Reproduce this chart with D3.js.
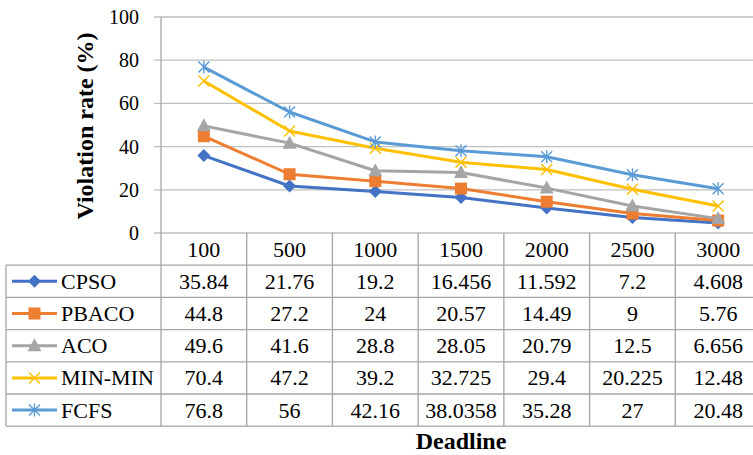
<!DOCTYPE html>
<html>
<head>
<meta charset="utf-8">
<script src="https://cdn.jsdelivr.net/npm/d3@7"></script>
<style>
  body { margin: 0; background: #fff; }
  svg { display: block; }
</style>
</head>
<body>
<div id="container"></div>
<script>
/* CONSTANTS AND GLOBALS */
const width = 753,
  height = 455;
const plotLeft = 161, plotRight = 761, plotTop = 17, plotBottom = 233;
const rowH = 32.2, tableLeft = 6;
const font = 'Liberation Serif';

/* DATA */
const deadlines = ['100', '500', '1000', '1500', '2000', '2500', '3000'];
const cpso = [35.84, 21.76, 19.2, 16.456, 11.592, 7.2, 4.608];
const pbaco = [44.8, 27.2, 24, 20.57, 14.49, 9, 5.76];
const aco = [49.6, 41.6, 28.8, 28.05, 20.79, 12.5, 6.656];
const minmin = [70.4, 47.2, 39.2, 32.725, 29.4, 20.225, 12.48];
const fcfs = [76.8, 56, 42.16, 38.0358, 35.28, 27, 20.48];
const yTicks = [0, 20, 40, 60, 80, 100];

const series = [
  { name: 'CPSO', values: cpso, color: '#4472C4', marker: 'diamond' },
  { name: 'PBACO', values: pbaco, color: '#ED7D31', marker: 'square' },
  { name: 'ACO', values: aco, color: '#A5A5A5', marker: 'triangle' },
  { name: 'MIN-MIN', values: minmin, color: '#FFC000', marker: 'x' },
  { name: 'FCFS', values: fcfs, color: '#5B9BD5', marker: 'star' }
];

// SCALES
const xScale = d3.scaleBand()
  .domain(deadlines)
  .range([plotLeft, plotRight])
  .padding(0);

const yScale = d3.scaleLinear()
  .domain([0, 100])
  .range([plotBottom, plotTop]);

// CREATE SVG ELEMENT
const svg = d3.select('#container')
  .append('svg')
  .attr('width', width)
  .attr('height', height)
  .style('font-family', font);

// GRIDLINES + Y AXIS
svg.append('g')
  .selectAll('line')
  .data(yTicks)
  .join('line')
  .attr('x1', plotLeft - 7)
  .attr('x2', plotRight)
  .attr('y1', d => yScale(d))
  .attr('y2', d => yScale(d))
  .attr('stroke', '#BFBFBF')
  .attr('stroke-width', 1.3);

const yAxis = d3.axisLeft(yScale)
  .tickValues(yTicks)
  .tickSize(0)
  .tickPadding(22);

svg.append('g')
  .attr('transform', `translate(${plotLeft}, 0)`)
  .call(yAxis)
  .call(g => g.select('.domain').remove())
  .call(g => g.selectAll('text')
    .style('font-family', font)
    .attr('font-size', 20)
    .attr('fill', '#000'));

// axis line
svg.append('line')
  .attr('x1', plotLeft).attr('x2', plotLeft)
  .attr('y1', plotTop).attr('y2', plotBottom + rowH * 6)
  .attr('stroke', '#A6A6A6').attr('stroke-width', 1.3);

// Y TITLE
svg.append('text')
  .attr('transform', `translate(93, ${(plotTop + plotBottom) / 2 + 1}) rotate(-90)`)
  .attr('text-anchor', 'middle')
  .attr('font-size', 24)
  .attr('font-weight', 'bold')
  .text('Violation rate (%)');

// DATA TABLE
const table = svg.append('g');
const tableBorder = '#A6A6A6';

// vertical column lines
table.selectAll('.vcol')
  .data(deadlines)
  .join('line')
  .attr('class', 'vcol')
  .attr('x1', d => xScale(d) + xScale.bandwidth())
  .attr('x2', d => xScale(d) + xScale.bandwidth())
  .attr('y1', plotBottom)
  .attr('y2', plotBottom + rowH * 6)
  .attr('stroke', tableBorder).attr('stroke-width', 1.3);

// left border
table.append('line')
  .attr('x1', tableLeft).attr('x2', tableLeft)
  .attr('y1', plotBottom + rowH).attr('y2', plotBottom + rowH * 6)
  .attr('stroke', tableBorder).attr('stroke-width', 1.3);

// horizontal row lines
table.selectAll('.hrow')
  .data(d3.range(1, 7))
  .join('line')
  .attr('class', 'hrow')
  .attr('x1', tableLeft).attr('x2', plotRight)
  .attr('y1', d => plotBottom + rowH * d)
  .attr('y2', d => plotBottom + rowH * d)
  .attr('stroke', tableBorder).attr('stroke-width', 1.3);

// header
table.selectAll('.head')
  .data(deadlines)
  .join('text')
  .attr('class', 'head')
  .attr('x', d => xScale(d) + xScale.bandwidth() / 2)
  .attr('y', plotBottom + rowH / 2 + 7.5)
  .attr('text-anchor', 'middle')
  .attr('font-size', 22)
  .text(d => d);

// MARKERS
function drawMarker(g, type, color, x, y) {
  if (type === 'diamond') {
    g.append('path')
      .attr('d', `M${x},${y - 6.5}L${x + 6.5},${y}L${x},${y + 6.5}L${x - 6.5},${y}Z`)
      .attr('fill', color);
  } else if (type === 'square') {
    g.append('rect')
      .attr('x', x - 6).attr('y', y - 6)
      .attr('width', 12).attr('height', 12)
      .attr('fill', color);
  } else if (type === 'triangle') {
    g.append('path')
      .attr('d', `M${x},${y - 7.5}L${x + 7},${y + 5.5}L${x - 7},${y + 5.5}Z`)
      .attr('fill', color);
  } else if (type === 'x') {
    g.append('path')
      .attr('d', `M${x - 5.5},${y - 5.5}L${x + 5.5},${y + 5.5}M${x + 5.5},${y - 5.5}L${x - 5.5},${y + 5.5}`)
      .attr('stroke', color).attr('stroke-width', 1.4).attr('fill', 'none');
  } else if (type === 'star') {
    g.append('path')
      .attr('d', `M${x - 5.5},${y - 5.5}L${x + 5.5},${y + 5.5}M${x + 5.5},${y - 5.5}L${x - 5.5},${y + 5.5}M${x},${y - 6.5}L${x},${y + 6.5}`)
      .attr('stroke', color).attr('stroke-width', 1.4).attr('fill', 'none');
  }
}

// rows
series.forEach((s, r) => {
  const yMid = plotBottom + rowH * (r + 1) + rowH / 2;
  const row = table.append('g');
  row.append('line')
    .attr('x1', 12).attr('x2', 57)
    .attr('y1', yMid).attr('y2', yMid)
    .attr('stroke', s.color).attr('stroke-width', 3);
  drawMarker(row, s.marker, s.color, 34.5, yMid);
  row.append('text')
    .attr('x', 61).attr('y', yMid + 7.5)
    .attr('font-size', 22)
    .text(s.name);
  row.selectAll('.val')
    .data(s.values)
    .join('text')
    .attr('class', 'val')
    .attr('x', (d, i) => xScale(deadlines[i]) + xScale.bandwidth() / 2)
    .attr('y', yMid + 7.5)
    .attr('text-anchor', 'middle')
    .attr('font-size', 22)
    .text(d => d);
});

// LINES
const lineGen = d3.line()
  .x((d, i) => xScale(deadlines[i]) + xScale.bandwidth() / 2)
  .y(d => yScale(d));

const lines = svg.append('g');
series.forEach(s => {
  lines.append('path')
    .attr('d', lineGen(s.values))
    .attr('fill', 'none')
    .attr('stroke', s.color)
    .attr('stroke-width', 3)
    .attr('stroke-linejoin', 'round');
  const mg = lines.append('g');
  s.values.forEach((v, i) => {
    drawMarker(mg, s.marker, s.color, xScale(deadlines[i]) + xScale.bandwidth() / 2, yScale(v));
  });
});

// X TITLE
svg.append('text')
  .attr('x', (plotLeft + plotRight) / 2)
  .attr('y', 449)
  .attr('text-anchor', 'middle')
  .attr('font-size', 24)
  .attr('font-weight', 'bold')
  .text('Deadline');
</script>
</body>
</html>
